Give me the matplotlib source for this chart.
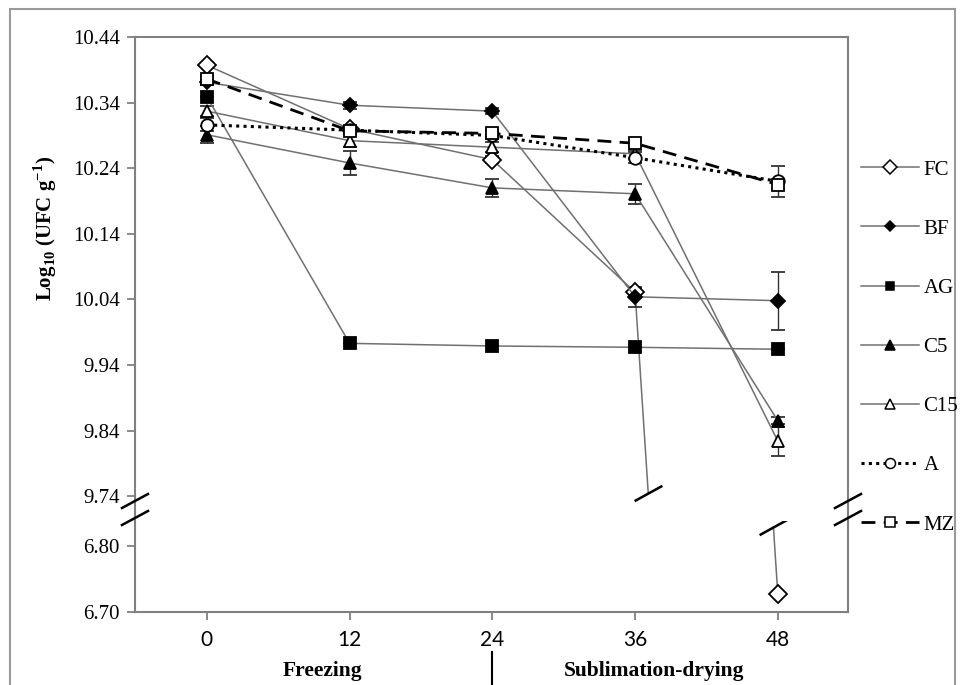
import matplotlib
matplotlib.use("Agg")
import matplotlib.pyplot as plt
from matplotlib.lines import Line2D
from matplotlib.patches import Rectangle
from matplotlib.path import Path
from matplotlib.transforms import blended_transform_factory

plt.rcParams['mathtext.fontset'] = 'custom'
plt.rcParams['mathtext.rm'] = 'Liberation Serif'
plt.rcParams['mathtext.bf'] = 'Liberation Serif:bold'

# ---------------- data ----------------
hours = [0, 12, 24, 36, 48]
hour_labels = ['0', '12', '24', '36', '48']
series_names = ['FC', 'BF', 'AG', 'C5', 'C15', 'A', 'MZ']

FC = [10.397, 10.300, 10.253, 10.051, 6.727]
BF = [10.371, 10.336, 10.327, 10.044, 10.038]
AG = [10.349, 9.973, 9.969, 9.967, 9.964]
C5 = [10.291, 10.248, 10.210, 10.201, 9.855]
C15 = [10.327, 10.282, 10.272, 10.262, 9.824]
A = [10.306, 10.298, 10.290, 10.256, 10.220]
MZ = [10.376, 10.297, 10.293, 10.278, 10.215]

FC_err = [0.0, 0.0, 0.005, 0.006, 0.0]
BF_err = [0.004, 0.005, 0.005, 0.015, 0.044]
AG_err = [0.0, 0.0, 0.0, 0.0, 0.0]
C5_err = [0.013, 0.018, 0.014, 0.015, 0.005]
C15_err = [0.008, 0.010, 0.008, 0.006, 0.022]
A_err = [0.010, 0.006, 0.006, 0.008, 0.024]
MZ_err = [0.005, 0.004, 0.005, 0.004, 0.006]

upper_ticks = [10.44, 10.34, 10.24, 10.14, 10.04, 9.94, 9.84, 9.74]
lower_ticks = [6.80, 6.70]

# ---------------- layout ----------------
W_PX, H_PX = 963, 685
fig = plt.figure(figsize=(W_PX / 100, H_PX / 100), dpi=100)

def fx(px):
    return px / W_PX

def fy(py):
    return 1 - py / H_PX

left_px, right_px = 135, 848
top_px, split_px, bottom_px = 37, 521, 612
ppu = 656.0  # pixels per y unit

ax_top = fig.add_axes([fx(left_px), fy(split_px), fx(right_px - left_px), (split_px - top_px) / H_PX])
ax_bot = fig.add_axes([fx(left_px), fy(bottom_px), fx(right_px - left_px), (bottom_px - split_px) / H_PX])

ax_top.set_ylim(10.44 - (split_px - top_px) / ppu, 10.44)
ax_bot.set_ylim(6.70, 6.70 + (bottom_px - split_px) / ppu)
for ax in (ax_top, ax_bot):
    ax.set_xlim(-6.04, 53.9)

spine_col = '#808080'
for ax in (ax_top, ax_bot):
    for s in ax.spines.values():
        s.set_color(spine_col)
        s.set_linewidth(1.5)
    ax.tick_params(axis='y', direction='out', length=6, width=1.3, color=spine_col,
                   labelsize=15, pad=5)
ax_top.spines['bottom'].set_visible(False)
ax_bot.spines['top'].set_visible(False)
ax_top.tick_params(axis='x', bottom=False, labelbottom=False)

ax_top.set_yticks(upper_ticks)
ax_top.set_yticklabels([f'{t:.2f}' for t in upper_ticks], family='Liberation Serif', fontsize=15)
ax_bot.set_yticks(lower_ticks)
ax_bot.set_yticklabels([f'{t:.2f}' for t in lower_ticks], family='Liberation Serif', fontsize=15)
ax_bot.set_xticks(hours)
ax_bot.set_xticklabels(hour_labels, family='Lato', fontsize=15)
ax_bot.tick_params(axis='x', direction='out', length=6, width=1.3, color=spine_col, pad=7)

# ---------------- styles ----------------
gray = '#707070'
styles = {
    'FC': dict(color=gray, ls='-', lw=1.1, marker='D', ms=9, mfc='white'),
    'BF': dict(color=gray, ls='-', lw=1.1, marker='D', ms=7, mfc='black'),
    'AG': dict(color=gray, ls='-', lw=1.1, marker='s', ms=8, mfc='black'),
    'C5': dict(color=gray, ls='-', lw=1.1, marker='^', ms=9, mfc='black'),
    'C15': dict(color=gray, ls='-', lw=1.1, marker='^', ms=9, mfc='white'),
    'A': dict(color='black', ls=(0, (1, 1.4)), lw=2.2, marker='o', ms=9, mfc='white'),
    'MZ': dict(color='black', ls=(0, (5, 3)), lw=2.0, marker='s', ms=9, mfc='white'),
}
values = {'FC': FC, 'BF': BF, 'AG': AG, 'C5': C5, 'C15': C15, 'A': A, 'MZ': MZ}
errors = {'FC': FC_err, 'BF': BF_err, 'AG': AG_err, 'C5': C5_err, 'C15': C15_err, 'A': A_err, 'MZ': MZ_err}

def draw(ax, name, xs, ys, es):
    st = styles[name]
    ax.errorbar(xs, ys, yerr=es, color=st['color'], ls=st['ls'], lw=st['lw'],
                marker=st['marker'], ms=st['ms'], mfc=st['mfc'], mec='black', mew=1.3,
                ecolor='#333333', elinewidth=1.0, capsize=5, capthick=1.0, zorder=3)

for name in series_names:
    ys = values[name]
    es = errors[name]
    if name == 'FC':
        draw(ax_top, name, hours[:4], ys[:4], es[:4])
        draw(ax_bot, name, hours[4:], ys[4:], es[4:])
    else:
        draw(ax_top, name, hours, ys, es)

# broken FC connection across the axis break
slash = Path([(-1, -0.55), (1, 0.55)], [Path.MOVETO, Path.LINETO])
y_brk_top = 9.745
y_brk_bot = 6.83

def x_on_fc(y):
    return hours[3] + (hours[4] - hours[3]) * (FC[3] - y) / (FC[3] - FC[4])

xb1 = x_on_fc(y_brk_top)
xb2 = x_on_fc(y_brk_bot)
ax_top.plot([hours[3], xb1], [FC[3], y_brk_top], color=gray, lw=1.1, zorder=2)
ax_top.plot([xb1], [y_brk_top], marker=slash, ms=20, mew=1.8, color='black', ls='none', zorder=4)
ax_bot.plot([xb2, hours[4]], [y_brk_bot, FC[4]], color=gray, lw=1.1, zorder=2)
ax_bot.plot([xb2], [y_brk_bot], marker=slash, ms=20, mew=1.8, color='black', ls='none', zorder=4)

# axis break marks on left and right spines
for xp in (left_px, right_px):
    for yp in (501, 518):
        fig.add_artist(Line2D([fx(xp - 13), fx(xp + 13)], [fy(yp + 7), fy(yp - 7)],
                              transform=fig.transFigure, color='black', lw=1.8))

# ---------------- legend ----------------
handles = []
for name in series_names:
    st = styles[name]
    handles.append(Line2D([], [], color=st['color'], ls=st['ls'], lw=st['lw'],
                          marker=st['marker'], ms=st['ms'] * 0.8, mfc=st['mfc'],
                          mec='black', mew=1.1))
fig.legend(handles, series_names, loc='upper left', bbox_to_anchor=(fx(861), fy(160)),
           frameon=False, prop={'family': 'Liberation Serif', 'size': 15},
           labelspacing=1.9, handlelength=2.8, handletextpad=0.2, borderaxespad=0,
           borderpad=0, numpoints=1)

# ---------------- texts ----------------
fig.text(fx(45), fy(228), r'Log$_{\mathbf{10}}$ (UFC g$^{\mathbf{-1}}$)', rotation=90,
         ha='center', va='center', family='Liberation Serif', weight='bold', fontsize=15)
fig.text(fx(322), fy(671), 'Freezing', ha='center', va='center',
         family='Liberation Serif', weight='bold', fontsize=15.5)
fig.text(fx(654), fy(671), 'Sublimation-drying', ha='center', va='center',
         family='Liberation Serif', weight='bold', fontsize=15.5)
trans = blended_transform_factory(ax_bot.transData, fig.transFigure)
fig.add_artist(Line2D([hours[2], hours[2]], [fy(652), fy(685)], transform=trans,
                      color='black', lw=1.5))

# outer border
fig.add_artist(Rectangle((fx(10), -0.02), fx(955 - 10), (H_PX - 9) / H_PX + 0.02,
                         transform=fig.transFigure, fill=False, ec='#9a9a9a', lw=1.5))

fig.savefig('out.png', dpi=100)
